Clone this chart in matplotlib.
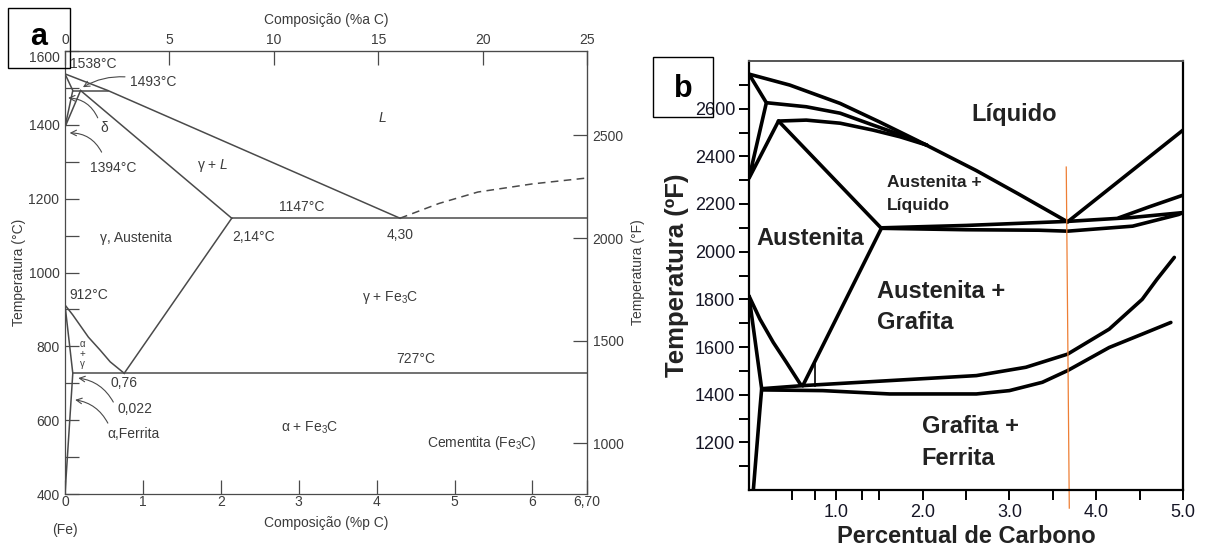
import matplotlib
matplotlib.use("Agg")
import matplotlib.pyplot as plt
from matplotlib.patches import Rectangle

plt.rcParams['font.family'] = ['Liberation Sans', 'DejaVu Sans']
plt.rcParams['mathtext.fontset'] = 'custom'
plt.rcParams['mathtext.rm'] = 'Liberation Sans'
plt.rcParams['mathtext.it'] = 'Liberation Sans:italic'

# ---- panel a: Fe-Fe3C (wt% C, degC) ----
a_liq_x = [0, 0.55, 4.30]
a_liq_T = [1538, 1493, 1147]
a_delta_x = [0, 0.1, 0]
a_delta_T = [1538, 1493, 1394]
a_gam_x = [0, 0.2]
a_gam_T = [1394, 1493]
a_perit_x = [0.1, 0.55]
a_perit_T = [1493, 1493]
a_sol_x = [0.2, 2.14]
a_sol_T = [1493, 1147]
a_eut_x = [2.14, 6.70]
a_eut_T = [1147, 1147]
a_liq2_x = [4.30, 4.8, 5.3, 6.0, 6.70]
a_liq2_T = [1147, 1187, 1218, 1240, 1256]
a_acm_x = [0.76, 2.14]
a_acm_T = [727, 1147]
a_a3_x = [0, 0.1, 0.19, 0.3, 0.45, 0.58, 0.76]
a_a3_T = [912, 885, 858, 825, 790, 758, 727]
a_alpha_x = [0, 0.1, 0]
a_alpha_T = [912, 727, 400]
a_eutd_x = [0.1, 6.70]
a_eutd_T = [727, 727]

a_xticks = [0, 1, 2, 3, 4, 5, 6, 6.70]
a_xlabels = ['0', '1', '2', '3', '4', '5', '6', '6,70']
a_top_ticks = [0, 5, 10, 15, 20, 25]
a_yticks = [400, 600, 800, 1000, 1200, 1400, 1600]
a_fticks = [1000, 1500, 2000, 2500]

# ---- panel b: Fe-C graphite (wt% C, degF) ----
b_liq_x = [0, 0.47, 1.05, 1.5, 1.93, 2.2, 2.62, 3.1, 3.67]
b_liq_T = [2745, 2699, 2622, 2545, 2468, 2418, 2340, 2243, 2125]
b_in1_x = [0.2, 0.66, 1.05, 1.43, 1.81, 2.05]
b_in1_T = [2625, 2608, 2581, 2531, 2482, 2447]
b_in2_x = [0.34, 0.66, 1.05, 1.43, 1.74, 2.05]
b_in2_T = [2548, 2552, 2539, 2510, 2482, 2447]
b_left_x = [0, 0.2, 0, 0.34]
b_left_T = [2745, 2625, 2308, 2548]
b_sol_x = [0.34, 1.525]
b_sol_T = [2548, 2098]
b_eut1_x = [1.525, 2.5, 3.67, 4.4, 5.0]
b_eut1_T = [2100, 2110, 2127, 2143, 2164]
b_eut2_x = [1.525, 2.5, 3.34, 3.67, 4.42, 4.95, 5.0]
b_eut2_T = [2098, 2092, 2090, 2086, 2107, 2156, 2164]
b_br_x = [4.26, 4.61, 5.0]
b_br_T = [2142, 2188, 2237]
b_gliq_x = [3.67, 5.0]
b_gliq_T = [2125, 2510]
b_acm_x = [0.62, 1.525]
b_acm_T = [1438, 2098]
b_a3_x = [0, 0.126, 0.28, 0.43, 0.59, 0.62]
b_a3_T = [1814, 1717, 1619, 1536, 1445, 1438]
b_fer_x = [0, 0.146, 0.126, 0.05]
b_fer_T = [1814, 1425, 1340, 1000]
b_up_x = [0.146, 0.62, 1.62, 2.62, 3.19, 3.67, 4.15, 4.53, 4.7, 4.9]
b_up_T = [1425, 1438, 1459, 1480, 1515, 1570, 1675, 1800, 1884, 1976]
b_lo_x = [0.146, 0.85, 1.62, 2.62, 3.0, 3.38, 3.67, 4.15, 4.53, 4.86]
b_lo_T = [1420, 1417, 1403, 1403, 1417, 1452, 1501, 1598, 1654, 1703]
b_mark_x = [0.76, 0.76]
b_mark_T = [1536, 1438]
b_orange_x = [3.655, 3.69]
b_orange_T = [2355, 924]

b_xticks = [1, 2, 3, 4, 5]
b_xlabels = ['1.0', '2.0', '3.0', '4.0', '5.0']
b_xminor = [0.5, 0.76, 1.3, 1.5, 2.5, 3.5, 4.5]
b_yticks = [1200, 1400, 1600, 1800, 2000, 2200, 2400, 2600]
b_yminor = [1100, 1300, 1500, 1700, 1900, 2100, 2300, 2500, 2700]

W, H = 1205, 547
fig = plt.figure(figsize=(W / 100, H / 100), dpi=100)


def box(l, t, r, b):
    return [l / W, 1 - b / H, (r - l) / W, (b - t) / H]


GA = '#4a4a4a'
TA = '#3c3c3c'

# ================= panel a =================
ax = fig.add_axes(box(65, 51, 587, 494))
ax.set_xlim(0, 6.7)
ax.set_ylim(400, 1600)
for xs, ys in [(a_liq_x, a_liq_T), (a_delta_x, a_delta_T), (a_gam_x, a_gam_T),
               (a_perit_x, a_perit_T), (a_sol_x, a_sol_T), (a_eut_x, a_eut_T),
               (a_acm_x, a_acm_T), (a_a3_x, a_a3_T), (a_alpha_x, a_alpha_T),
               (a_eutd_x, a_eutd_T)]:
    ax.plot(xs, ys, color=GA, lw=1.1)
ax.plot(a_liq2_x, a_liq2_T, color=GA, lw=1.1, ls=(0, (5, 3.5)))

ax.set_xticks(a_xticks)
ax.set_xticklabels(a_xlabels)
ax.set_yticks(a_yticks)
ax.set_yticks(range(500, 1600, 200), minor=True)
ax.tick_params(which='both', direction='in', length=10, width=0.9, color=GA,
               labelcolor=TA, labelsize=10, pad=4)
ax.tick_params(axis='x', pad=1)
ax.get_yticklabels()[-1].set_va('top')
for s in ax.spines.values():
    s.set_color(GA)
    s.set_linewidth(0.9)
ax.set_xlabel('Composição (%p C)', fontsize=10, color=TA, labelpad=5)
ax.set_ylabel('Temperatura (°C)', fontsize=10, color=TA, labelpad=2)

top = ax.secondary_xaxis('top', functions=(lambda w: w * 25 / 6.7, lambda c: c * 6.7 / 25))
top.set_xticks(a_top_ticks)
top.tick_params(direction='in', length=10, width=0.9, color=GA, labelcolor=TA,
                labelsize=10, pad=3)
top.set_xlabel('Composição (%a C)', fontsize=10, color=TA, labelpad=6)
top.spines['top'].set_color(GA)

rt = ax.secondary_yaxis('right', functions=(lambda c: c * 9 / 5 + 32, lambda f: (f - 32) * 5 / 9))
rt.set_yticks(a_fticks)
rt.tick_params(direction='in', length=10, width=0.9, color=GA, labelcolor=TA,
               labelsize=10, pad=4)
rt.set_ylabel('Temperatura (°F)', fontsize=10, color=TA, rotation=90, labelpad=5)
rt.spines['right'].set_color(GA)

fs = 10
ax.text(0.064, 1565, '1538°C', fontsize=fs, color=TA, ha='left', va='center')
ax.text(0.83, 1516, '1493°C', fontsize=fs, color=TA, ha='left', va='center')
ax.text(0.51, 1391, 'δ', fontsize=fs, color=TA, ha='center', va='center')
ax.text(0.32, 1283, '1394°C', fontsize=fs, color=TA, ha='left', va='center')
ax.text(4.08, 1418, '$\\mathit{L}$', fontsize=fs, color=TA, ha='center', va='center')
ax.text(1.9, 1291, 'γ + $\\mathit{L}$', fontsize=fs, color=TA, ha='center', va='center')
ax.text(3.04, 1177, '1147°C', fontsize=fs, color=TA, ha='center', va='center')
ax.text(0.45, 1093, 'γ, Austenita', fontsize=fs, color=TA, ha='left', va='center')
ax.text(2.15, 1096, '2,14°C', fontsize=fs, color=TA, ha='left', va='center')
ax.text(4.13, 1101, '4,30', fontsize=fs, color=TA, ha='left', va='center')
ax.text(0.05, 920, '912°C', fontsize=fs, color=TA, ha='left', va='bottom')
ax.text(0.22, 806, 'α', fontsize=7, color=TA, ha='center', va='center')
ax.text(0.22, 779, '+', fontsize=7, color=TA, ha='center', va='center')
ax.text(0.22, 752, 'γ', fontsize=7, color=TA, ha='center', va='center')
ax.text(0.58, 701, '0,76', fontsize=fs, color=TA, ha='left', va='center')
ax.text(0.68, 630, '0,022', fontsize=fs, color=TA, ha='left', va='center')
ax.text(0.54, 563, 'α,Ferrita', fontsize=fs, color=TA, ha='left', va='center')
ax.text(4.18, 931, 'γ + Fe$_3$C', fontsize=fs, color=TA, ha='center', va='center')
ax.text(4.5, 766, '727°C', fontsize=fs, color=TA, ha='center', va='center')
ax.text(3.14, 579, 'α + Fe$_3$C', fontsize=fs, color=TA, ha='center', va='center')
ax.text(5.35, 538, 'Cementita (Fe$_3$C)', fontsize=fs, color=TA, ha='center', va='center')
ax.text(0, 303, '(Fe)', fontsize=fs, color=TA, ha='center', va='center', clip_on=False)

arrows = [((0.77, 1530), (0.23, 1502), 0.15),
          ((0.42, 1419), (0.04, 1473), 0.3),
          ((0.47, 1326), (0.06, 1378), 0.3),
          ((0.62, 649), (0.17, 714), 0.25),
          ((0.55, 592), (0.13, 655), 0.25)]
for start, tip, rad in arrows:
    ax.annotate('', xy=tip, xytext=start,
                arrowprops=dict(arrowstyle='->', color=GA, lw=0.8, shrinkA=0, shrinkB=0,
                                connectionstyle='arc3,rad=%s' % rad))

# ================= panel b =================
bx = fig.add_axes(box(749, 61, 1183, 490))
bx.set_xlim(0, 5)
bx.set_ylim(1000, 2800)
for xs, ys in [(b_liq_x, b_liq_T), (b_in1_x, b_in1_T), (b_in2_x, b_in2_T),
               (b_left_x, b_left_T), (b_sol_x, b_sol_T), (b_eut1_x, b_eut1_T),
               (b_eut2_x, b_eut2_T), (b_br_x, b_br_T), (b_gliq_x, b_gliq_T),
               (b_acm_x, b_acm_T), (b_a3_x, b_a3_T), (b_fer_x, b_fer_T),
               (b_up_x, b_up_T), (b_lo_x, b_lo_T)]:
    bx.plot(xs, ys, color='black', lw=2.6, solid_joinstyle='round',
            solid_capstyle='round')
bx.plot(b_mark_x, b_mark_T, color='black', lw=1.2)
bx.plot(b_orange_x, b_orange_T, color='#ee7f35', lw=0.9, clip_on=False)

bx.set_xticks(b_xticks)
bx.set_xticklabels(b_xlabels)
bx.set_xticks(b_xminor, minor=True)
bx.set_yticks(b_yticks)
bx.set_yticks(b_yminor, minor=True)
bx.tick_params(which='both', direction='out', length=7, width=1.4, color='black',
               labelcolor='#151525', labelsize=13, pad=3)
for s in ['left', 'bottom', 'right']:
    bx.spines[s].set_linewidth(1.6)
bx.spines['top'].set_color('#555555')
bx.spines['top'].set_linewidth(1.4)
bx.set_xlabel('Percentual de Carbono', fontsize=17, fontweight='bold',
              color='#222222', labelpad=3)
bx.set_ylabel('Temperatura (ºF)', fontsize=18.5, fontweight='bold',
              color='#222222', labelpad=4)

bf = dict(fontsize=17, fontweight='bold', color='#222222', va='center')
bx.text(3.06, 2574, 'Líquido', ha='center', **bf)
bx.text(1.59, 2290, 'Austenita +', fontsize=12.5, fontweight='bold', color='#222222',
        ha='left', va='center')
bx.text(1.59, 2194, 'Líquido', fontsize=12.5, fontweight='bold', color='#222222',
        ha='left', va='center')
bx.text(0.09, 2056, 'Austenita', ha='left', **bf)
bx.text(1.47, 1834, 'Austenita +', ha='left', **bf)
bx.text(1.47, 1704, 'Grafita', ha='left', **bf)
bx.text(1.99, 1265, 'Grafita +', ha='left', **bf)
bx.text(1.99, 1131, 'Ferrita', ha='left', **bf)

# panel letters
for (l, t, r, b), base, letter in [((8, 8, 70, 68), 45, 'a'), ((653, 57, 713, 117), 97, 'b')]:
    x0, y0, w, h = box(l, t, r, b)
    fig.patches.append(Rectangle((x0, y0), w, h, transform=fig.transFigure,
                                 fill=False, lw=1.0, edgecolor='black', zorder=5))
    fig.text(x0 + w / 2, 1 - base / H, letter, fontsize=22, fontweight='bold',
             ha='center', va='baseline')

fig.savefig('out.png', dpi=100)
